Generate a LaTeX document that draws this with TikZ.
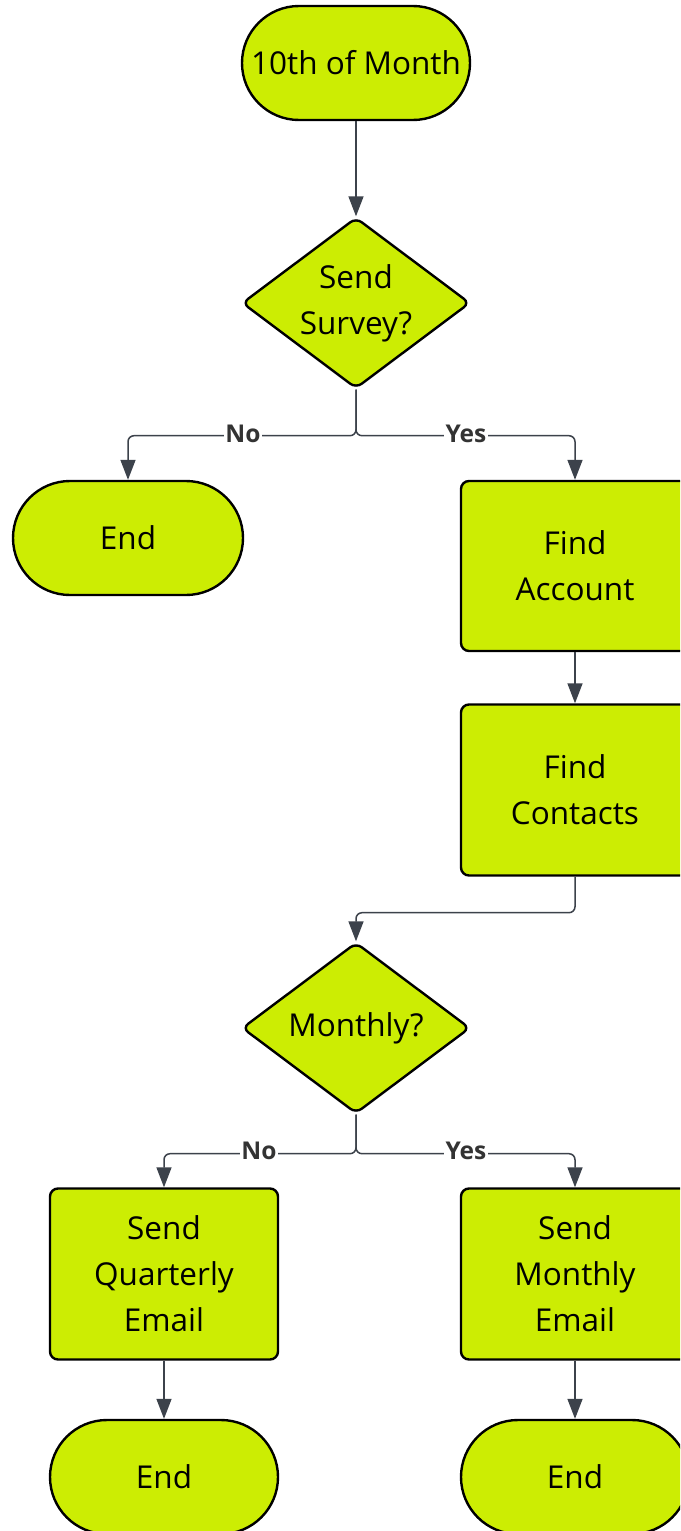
\documentclass[tikz,border=0pt]{standalone}
\usepackage{fontspec}
\setmainfont{Open Sans}
\usetikzlibrary{shapes.geometric,arrows.meta}
\definecolor{lime}{RGB}{204,237,3}
\definecolor{wire}{RGB}{60,66,75}
\definecolor{lbltext}{RGB}{51,51,51}
\begin{document}
\begin{tikzpicture}[x=1pt,y=-1pt,
  base/.style={draw=black,line width=2.4pt,fill=lime,text=black,align=center,inner sep=0pt,
    font=\fontsize{31.5}{46}\selectfont},
  term/.style={base,rounded corners=57pt,minimum width=228pt,minimum height=114pt},
  proc/.style={base,rounded corners=8pt,minimum width=228pt,minimum height=171pt},
  decide/.style={base,diamond,rounded corners=7pt,minimum width=228pt,minimum height=171pt,aspect=1.34},
  conn/.style={draw=wire,line width=1.5pt,rounded corners=6pt,-{Triangle[length=20pt,width=15pt]}},
  lbl/.style={fill=white,text=lbltext,inner sep=1.5pt,font=\bfseries\fontsize{24.5}{26}\selectfont}
]
\clip (0,0) rectangle (680,1531);
\fill[white] (0,0) rectangle (680,1531);

% nodes
\node[term]   (start) at (356,63)   {10th of Month};
\node[decide] (survey) at (356,303) {Send\\Survey?};
\node[term]   (endA)  at (128,538)  [minimum width=230pt] {End};
\node[proc]   (acct)  at (575,566)  [minimum height=170pt] {Find\\Account};
\node[proc]   (cont)  at (575,790)  {Find\\Contacts};
\node[decide] (monthly) at (356,1028) {Monthly?};
\node[proc]   (quart) at (164,1274) {Send\\Quarterly\\Email};
\node[proc]   (month) at (575,1274) {Send\\Monthly\\Email};
\node[term]   (endB)  at (164,1477) {End};
\node[term]   (endC)  at (575,1477) {End};

% connectors
\draw[conn] (start) -- (survey);
\draw[conn] (survey.south) -- ++(0,46) -| (endA.north);
\draw[conn] (survey.south) -- ++(0,46) -| (acct.north);
\draw[conn] (acct) -- (cont);
\draw[conn] (cont.south) -- ++(0,36) -| (monthly.north);
\draw[conn] (monthly.south) -- ++(0,39) -| (quart.north);
\draw[conn] (monthly.south) -- ++(0,39) -| (month.north);
\draw[conn] (quart) -- (endB);
\draw[conn] (month) -- (endC);

% branch labels
\node[lbl] (noA)  at (243,434)  {No};
\node[lbl] (yesA) at (466,434)  {Yes};
\node[lbl] (noB)  at (259,1151) {No};
\node[lbl] (yesB) at (466,1151) {Yes};
\end{tikzpicture}
\end{document}
